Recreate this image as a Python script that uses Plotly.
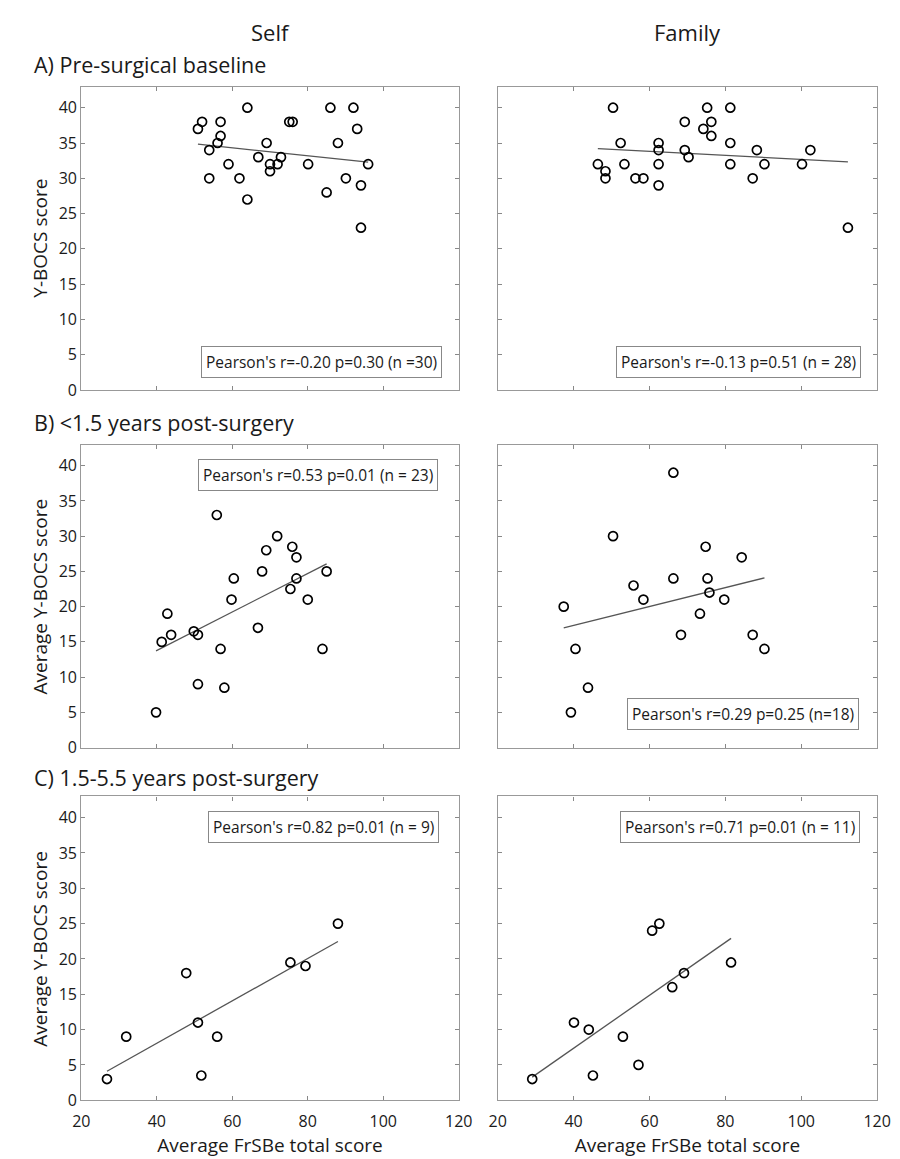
import numpy as np
import plotly.graph_objects as go
from plotly.subplots import make_subplots

# ---- data ----
a_self_x = [50.9, 52.0, 56.9, 56.9, 56.1, 53.9, 53.9, 59.0, 61.9, 64.0, 64.0, 66.9, 69.1, 70.0, 70.0,
            72.0, 72.9, 75.1, 76.0, 80.1, 85.0, 86.0, 88.0, 90.1, 92.1, 93.1, 94.1, 94.1, 96.0]
a_self_y = [37, 38, 38, 36, 35, 34, 30, 32, 30, 40, 27, 33, 35, 32, 31,
            32, 33, 38, 38, 32, 28, 40, 35, 30, 40, 37, 29, 23, 32]

a_fam_x = [50.4, 52.4, 46.4, 48.4, 48.4, 53.4, 56.3, 58.4, 62.4, 62.4, 62.4, 62.4, 69.3, 69.3,
           70.3, 74.2, 75.2, 76.3, 76.3, 81.3, 81.3, 81.3, 87.2, 88.3, 90.3, 100.2, 102.4, 112.3]
a_fam_y = [40, 35, 32, 31, 30, 32, 30, 30, 35, 34, 32, 29, 38, 34,
           33, 37, 40, 38, 36, 40, 35, 32, 30, 34, 32, 32, 34, 23]

b_self_x = [55.9, 60.4, 67.9, 69.0, 71.9, 75.9, 77.0, 77.0, 75.4, 85.0, 59.8, 80.0,
            42.8, 41.3, 43.8, 49.8, 50.9, 56.9, 66.8, 83.9, 50.9, 57.9, 39.8]
b_self_y = [33, 24, 25, 28, 30, 28.5, 27, 24, 22.5, 25, 21, 21,
            19, 15, 16, 16.5, 16, 14, 17, 14, 9, 8.5, 5]

b_fam_x = [66.3, 50.4, 74.8, 84.3, 66.3, 75.3, 55.8, 75.8, 58.4, 79.7,
           37.4, 73.3, 68.3, 87.2, 40.5, 90.3, 43.8, 39.3]
b_fam_y = [39, 30, 28.5, 27, 24, 24, 23, 22, 21, 21,
           20, 19, 16, 16, 14, 14, 8.5, 5]

c_self_x = [88.0, 75.4, 79.4, 47.8, 50.9, 56.0, 31.9, 51.8, 26.8]
c_self_y = [25, 19.5, 19, 18, 11, 9, 9, 3.5, 3]

c_fam_x = [60.7, 62.6, 81.5, 69.1, 66.0, 40.1, 44.0, 53.0, 57.1, 45.1, 29.1]
c_fam_y = [24, 25, 19.5, 18, 16, 11, 10, 9, 5, 3.5, 3]

stats_text = [
    "Pearson's r=-0.20 p=0.30 (n =30)",
    "Pearson's r=-0.13 p=0.51 (n = 28)",
    "Pearson's r=0.53 p=0.01 (n = 23)",
    "Pearson's r=0.29 p=0.25 (n=18)",
    "Pearson's r=0.82 p=0.01 (n = 9)",
    "Pearson's r=0.71 p=0.01 (n = 11)",
]
col_titles = ["Self", "Family"]
row_titles = ["A) Pre-surgical baseline", "B) <1.5 years post-surgery", "C) 1.5-5.5 years post-surgery"]
y_titles = ["Y-BOCS score", "Average Y-BOCS score", "Average Y-BOCS score"]
x_title = "Average FrSBe total score"
x_ticks = [20, 40, 60, 80, 100, 120]
y_ticks = [0, 5, 10, 15, 20, 25, 30, 35, 40]

W, H = 900, 1159
FONT = "Open Sans"
TXT = "#1a1a1a"

panels = [
    (a_self_x, a_self_y), (a_fam_x, a_fam_y),
    (b_self_x, b_self_y), (b_fam_x, b_fam_y),
    (c_self_x, c_self_y), (c_fam_x, c_fam_y),
]

# pixel layout
col_px = [(66, 453.3), (493.3, 882.7)]
row_px = [(79.3, 385.7), (440.7, 746.7), (796, 1102.7)]
box_px = [  # (center x, center y) of stats boxes
    (312, 357), (740, 357),
    (309, 471), (745, 713),
    (314.5, 827), (741.5, 827),
]

fig = make_subplots(rows=3, cols=2)

for i, (xs, ys) in enumerate(panels):
    r, c = i // 2 + 1, i % 2 + 1
    xs_a = np.array(xs, dtype=float)
    ys_a = np.array(ys, dtype=float)
    k, b = np.polyfit(xs_a, ys_a, 1)
    fx = np.array([xs_a.min(), xs_a.max()])
    fig.add_trace(go.Scatter(x=fx, y=k * fx + b, mode="lines",
                             line=dict(color="#555555", width=1.3),
                             showlegend=False, hoverinfo="skip"), row=r, col=c)
    fig.add_trace(go.Scatter(x=xs, y=ys, mode="markers",
                             marker=dict(symbol="circle-open", size=9, color="black",
                                         line=dict(width=1.7, color="black")),
                             showlegend=False), row=r, col=c)

for i in range(6):
    r, c = i // 2, i % 2
    ax_suffix = "" if i == 0 else str(i + 1)
    x0, x1 = col_px[c]
    y0, y1 = row_px[r]
    fig.layout["xaxis" + ax_suffix].update(
        domain=[x0 / W, x1 / W], range=[20, 120], tickvals=x_ticks,
        showticklabels=(r == 2), ticks="inside", ticklen=4, tickcolor="#888888",
        showline=True, linecolor="#999999", linewidth=1.2, mirror="ticks",
        showgrid=False, zeroline=False, ticklabelstandoff=6,
        tickfont=dict(family=FONT, size=16, color=TXT),
    )
    fig.layout["yaxis" + ax_suffix].update(
        domain=[1 - y1 / H, 1 - y0 / H], range=[0, 43], tickvals=y_ticks,
        showticklabels=(c == 0), ticks="inside", ticklen=4, tickcolor="#888888",
        showline=True, linecolor="#999999", linewidth=1.2, mirror="ticks",
        showgrid=False, zeroline=False,
        tickfont=dict(family=FONT, size=16, color=TXT),
    )
    if r == 2:
        fig.layout["xaxis" + ax_suffix].title = dict(
            text=x_title, font=dict(family=FONT, size=19, color=TXT), standoff=8)
    bx, by = box_px[i]
    fig.add_annotation(x=bx / W, y=1 - by / H, xref="paper", yref="paper",
                       text=stats_text[i], showarrow=False,
                       font=dict(family=FONT, size=15.5, color=TXT),
                       bordercolor="#888888", borderwidth=1, borderpad=4,
                       bgcolor="white", xanchor="center", yanchor="middle")

# column titles
for c, t in enumerate(col_titles):
    cx = (col_px[c][0] + col_px[c][1]) / 2
    fig.add_annotation(x=cx / W, y=1 - 24 / H, xref="paper", yref="paper", text=t,
                       showarrow=False, font=dict(family=FONT, size=22, color=TXT),
                       xanchor="center", yanchor="middle")
# row titles
row_title_y = [57, 418, 777]
for r, t in enumerate(row_titles):
    fig.add_annotation(x=15 / W, y=1 - row_title_y[r] / H, xref="paper", yref="paper", text=t,
                       showarrow=False, font=dict(family=FONT, size=21.5, color=TXT),
                       xanchor="left", yanchor="middle")
# y titles
for r, t in enumerate(y_titles):
    cy = (row_px[r][0] + row_px[r][1]) / 2
    fig.add_annotation(x=24 / W, y=1 - cy / H, xref="paper", yref="paper", text=t,
                       textangle=-90, showarrow=False,
                       font=dict(family=FONT, size=19, color=TXT),
                       xanchor="center", yanchor="middle")

fig.update_layout(width=W, height=H, margin=dict(l=0, r=0, t=0, b=0),
                  plot_bgcolor="white", paper_bgcolor="white",
                  font=dict(family=FONT))
fig.write_html("out.html")
